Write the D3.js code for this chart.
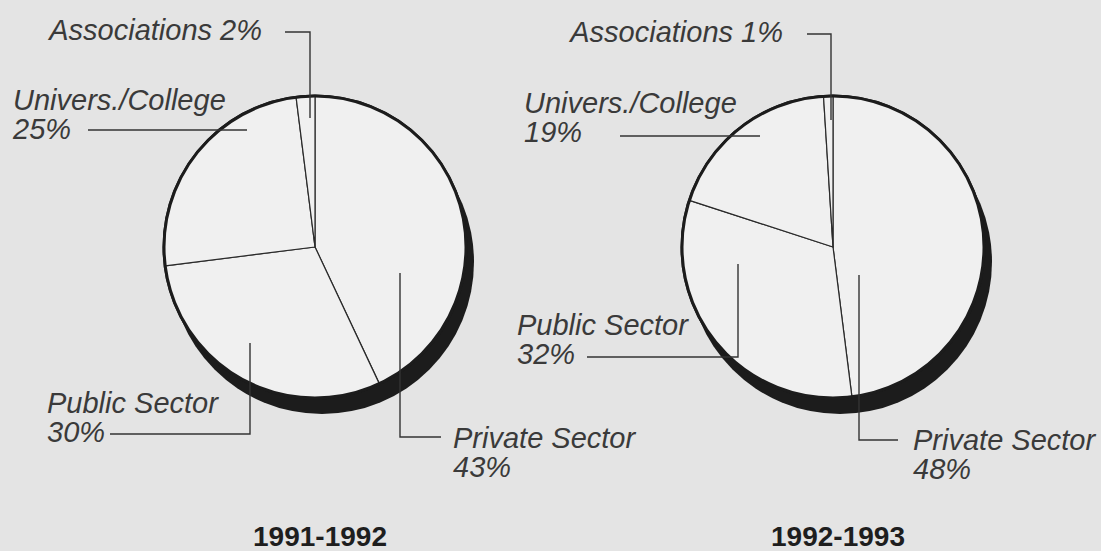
<!DOCTYPE html>
<html>
<head>
<meta charset="utf-8">
<script src="https://cdn.jsdelivr.net/npm/d3@7"></script>
<style>
  body { margin: 0; background: #e4e4e4; }
  svg { display: block; }
  .lbl { font-family: "Liberation Sans", Arial, sans-serif; font-style: italic; font-size: 29px; fill: #3a3a3a; }
  .ttl { font-family: "Liberation Sans", Arial, sans-serif; font-weight: bold; font-size: 28px; fill: #1e1e1e; }
</style>
</head>
<body>
<script>
// data
var categories = ['Private Sector', 'Public Sector', 'Univers./College', 'Associations'];
var values9192 = [43, 30, 25, 2];
var values9293 = [48, 32, 19, 1];
var periods = ['1991-1992', '1992-1993'];

var width_body = 1101, height_body = 551;
var radius = 151;
var shadowOffset = {x: 7, y: 15};

// where each label sits relative to its pie centre (hand placed in the original)
// leader = polyline points, text = first baseline, anchor
var labelLayout = [
  { // 1991-1992
    cx: 315, cy: 247,
    'Private Sector':   {leader: [[85,26],[85,190],[126,190]], text: [138,201], anchor: 'start', twoLines: true},
    'Public Sector':    {leader: [[-65,96],[-65,187],[-205,187]], text: [-268,166], anchor: 'start', twoLines: true},
    'Univers./College': {leader: [[-68,-117],[-227,-117]], text: [-302,-137], anchor: 'start', twoLines: true},
    'Associations':     {leader: [[-5,-129],[-5,-215],[-30,-215]], text: [-53,-207], anchor: 'end', twoLines: false}
  },
  { // 1992-1993
    cx: 833, cy: 247,
    'Private Sector':   {leader: [[26,28],[26,193],[65,193]], text: [80,203], anchor: 'start', twoLines: true},
    'Public Sector':    {leader: [[-95,17],[-95,110],[-246,110]], text: [-316,88], anchor: 'start', twoLines: true},
    'Univers./College': {leader: [[-73,-111],[-213,-111]], text: [-309,-134], anchor: 'start', twoLines: true},
    'Associations':     {leader: [[-2,-127],[-2,-213],[-26,-213]], text: [-50,-205], anchor: 'end', twoLines: false}
  }
];

var d3body = d3.select('body');
var svg = d3body.append('svg')
  .attr('width', width_body)
  .attr('height', height_body);

svg.append('rect')
  .attr('width', width_body)
  .attr('height', height_body)
  .attr('fill', '#e4e4e4');

var pie = d3.pie().sort(null).value(function(d){ return d.value; });
var arc = d3.arc().innerRadius(0).outerRadius(radius);
var line = d3.line();

function drawPie(values, period, lay){
  var data = categories.map(function(c, i){ return {name: c, value: values[i]}; });
  var g = svg.append('g').attr('transform', 'translate(' + lay.cx + ',' + lay.cy + ')');

  // dark rim / shadow behind the disc
  g.append('circle')
    .attr('cx', shadowOffset.x)
    .attr('cy', shadowOffset.y)
    .attr('r', radius + 1)
    .attr('fill', '#1c1c1c');

  // face
  g.append('circle')
    .attr('r', radius)
    .attr('fill', '#f0f0f0')
    .attr('stroke', '#1c1c1c')
    .attr('stroke-width', 3);

  // slices (only the dividing lines show)
  g.selectAll('path.slice')
    .data(pie(data))
    .enter().append('path')
    .attr('class', 'slice')
    .attr('d', arc)
    .attr('fill', '#f0f0f0')
    .attr('stroke', '#2a2a2a')
    .attr('stroke-width', 1.2)
    .attr('stroke-linejoin', 'round');

  // outline again on top
  g.append('circle')
    .attr('r', radius)
    .attr('fill', 'none')
    .attr('stroke', '#1c1c1c')
    .attr('stroke-width', 3);

  // labels + leaders
  data.forEach(function(d){
    var l = lay[d.name];
    g.append('path')
      .attr('d', line(l.leader))
      .attr('fill', 'none')
      .attr('stroke', '#333')
      .attr('stroke-width', 1.4);

    if (l.twoLines){
      // two separate text lines, tight leading like the original
      g.append('text')
        .attr('class', 'lbl')
        .attr('x', l.text[0])
        .attr('y', l.text[1])
        .text(d.name);
      g.append('text')
        .attr('class', 'lbl')
        .attr('x', l.text[0])
        .attr('y', l.text[1] + 29)
        .text(d.value + '%');
    } else {
      g.append('text')
        .attr('class', 'lbl')
        .attr('x', l.text[0])
        .attr('y', l.text[1])
        .attr('text-anchor', l.anchor)
        .text(d.name + ' ' + d.value + '%');
    }
  });

  // period title under the pie
  g.append('text')
    .attr('class', 'ttl')
    .attr('x', 5)
    .attr('y', 299)
    .attr('text-anchor', 'middle')
    .text(period);
}

drawPie(values9192, periods[0], labelLayout[0]);
drawPie(values9293, periods[1], labelLayout[1]);
</script>
</body>
</html>
